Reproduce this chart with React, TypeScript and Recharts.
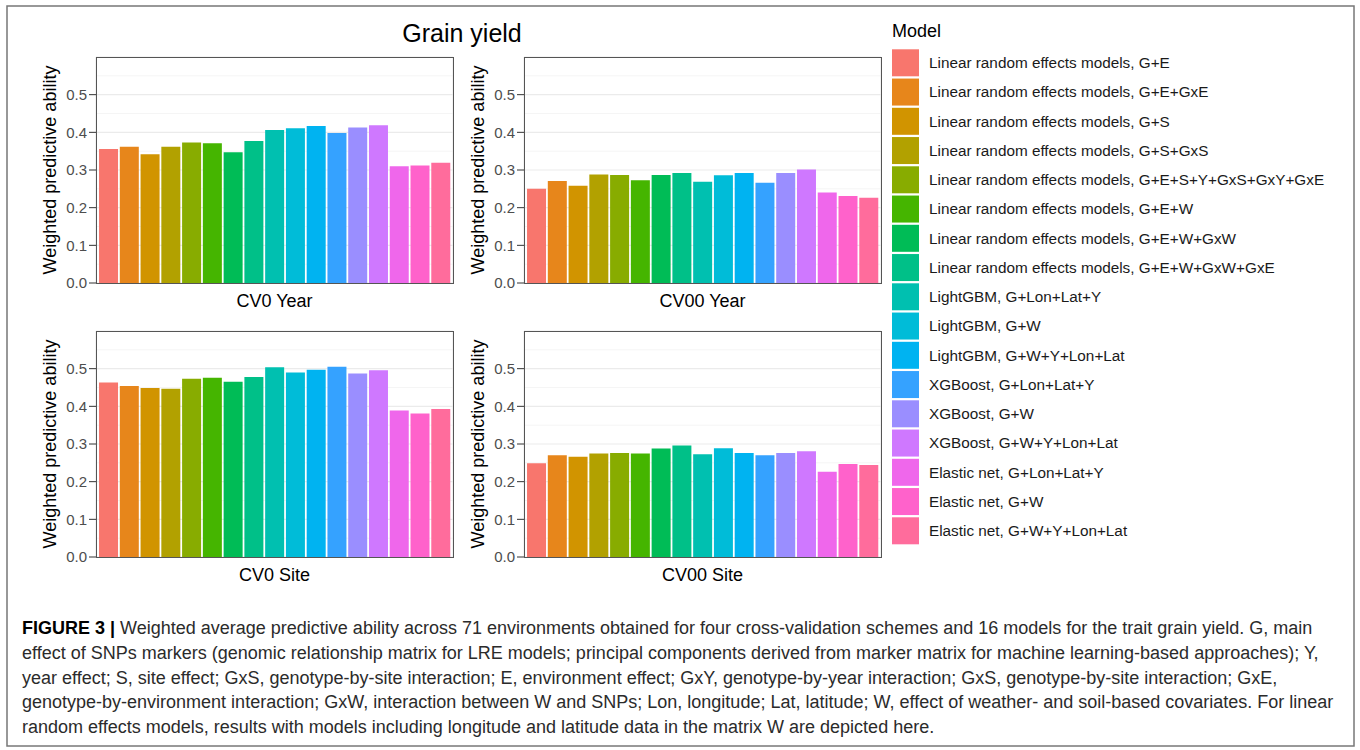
import React from 'react'
import { BarChart, Bar, Cell, XAxis, YAxis, CartesianGrid } from 'recharts'

// model names, in legend / bar order
const models = [
  'Linear random effects models, G+E',
  'Linear random effects models, G+E+GxE',
  'Linear random effects models, G+S',
  'Linear random effects models, G+S+GxS',
  'Linear random effects models, G+E+S+Y+GxS+GxY+GxE',
  'Linear random effects models, G+E+W',
  'Linear random effects models, G+E+W+GxW',
  'Linear random effects models, G+E+W+GxW+GxE',
  'LightGBM, G+Lon+Lat+Y',
  'LightGBM, G+W',
  'LightGBM, G+W+Y+Lon+Lat',
  'XGBoost, G+Lon+Lat+Y',
  'XGBoost, G+W',
  'XGBoost, G+W+Y+Lon+Lat',
  'Elastic net, G+Lon+Lat+Y',
  'Elastic net, G+W',
  'Elastic net, G+W+Y+Lon+Lat',
]

const colors = [
  '#F8766D', '#E7861B', '#D19400', '#B2A100', '#88AC00', '#45B500',
  '#00BC56', '#00C088', '#00C0B0', '#00BCD8', '#00B3F1', '#35A2FF',
  '#9A8EFF', '#CF78FF', '#EF67EB', '#FF62CB', '#FF6C9C',
]

const cv0Year = [0.356, 0.362, 0.342, 0.362, 0.373, 0.371, 0.347, 0.377, 0.406, 0.411, 0.417, 0.398, 0.413, 0.419, 0.310, 0.312, 0.319]
const cv00Year = [0.250, 0.271, 0.258, 0.288, 0.287, 0.273, 0.287, 0.292, 0.269, 0.286, 0.292, 0.266, 0.292, 0.301, 0.240, 0.231, 0.226]
const cv0Site = [0.463, 0.454, 0.449, 0.447, 0.473, 0.476, 0.465, 0.478, 0.504, 0.490, 0.497, 0.505, 0.487, 0.496, 0.389, 0.381, 0.393]
const cv00Site = [0.249, 0.270, 0.266, 0.275, 0.276, 0.275, 0.288, 0.296, 0.273, 0.289, 0.276, 0.270, 0.276, 0.281, 0.226, 0.247, 0.244]

const yTicks = [0, 0.1, 0.2, 0.3, 0.4, 0.5]
const yMinor = [0.05, 0.15, 0.25, 0.35, 0.45, 0.55]
const yMax = 0.6

const captionLines = [
  'Weighted average predictive ability across 71 environments obtained for four cross-validation schemes and 16 models for the trait grain yield. G, main',
  'effect of SNPs markers (genomic relationship matrix for LRE models; principal components derived from marker matrix for machine learning-based approaches); Y,',
  'year effect; S, site effect; GxS, genotype-by-site interaction; E, environment effect; GxY, genotype-by-year interaction; GxS, genotype-by-site interaction; GxE,',
  'genotype-by-environment interaction; GxW, interaction between W and SNPs; Lon, longitude; Lat, latitude; W, effect of weather- and soil-based covariates. For linear',
  'random effects models, results with models including longitude and latitude data in the matrix W are depicted here.',
]

const FONT = "'Liberation Sans', Arial, Helvetica, sans-serif"
const PLOT_W = 357
const PLOT_H = 226
const AXIS_W = 60
const TOP = 10
const RIGHT = 10
const X_H = 40

const panels = [
  { values: cv0Year, label: 'CV0 Year', x: 96, y: 57 },
  { values: cv00Year, label: 'CV00 Year', x: 524, y: 57 },
  { values: cv0Site, label: 'CV0 Site', x: 96, y: 331 },
  { values: cv00Site, label: 'CV00 Site', x: 524, y: 331 },
]

function Panel({ values, label, x, y }: { values: number[]; label: string; x: number; y: number }) {
  const data = models.map((m, i) => ({ model: m, value: values[i] }))
  const minorPts = yMinor.map((v) => TOP + PLOT_H * (1 - v / yMax))
  return (
    <div style={{ position: 'absolute', left: x - AXIS_W, top: y - TOP }}>
      <BarChart
        width={AXIS_W + PLOT_W + RIGHT}
        height={TOP + PLOT_H + X_H}
        data={data}
        margin={{ top: TOP, right: RIGHT, left: 0, bottom: 0 }}
        barCategoryGap="5%"
      >
        <CartesianGrid horizontalPoints={minorPts} vertical={false} stroke="#F2F2F2" strokeWidth={0.8} />
        <CartesianGrid stroke="#EBEBEB" strokeWidth={1.2} />
        <XAxis
          dataKey="model"
          tick={false}
          tickLine={false}
          axisLine={false}
          height={X_H}
          padding={{ left: 2, right: 2 }}
          label={{ value: label, position: 'insideBottom', offset: 16, style: { fontSize: 18, fill: '#000', fontFamily: FONT } }}
        />
        <YAxis
          domain={[0, yMax]}
          ticks={yTicks}
          tickFormatter={(v: number) => v.toFixed(1)}
          width={AXIS_W}
          axisLine={false}
          tickLine={{ stroke: '#333' }}
          tickSize={7}
          tickMargin={2}
          tick={{ fontSize: 15, fill: '#4D4D4D', fontFamily: FONT }}
          label={{
            value: 'Weighted predictive ability',
            angle: -90,
            position: 'insideLeft',
            offset: 14,
            style: { textAnchor: 'middle', fontSize: 18, fill: '#000', fontFamily: FONT },
          }}
        />
        <Bar dataKey="value" isAnimationActive={false}>
          {data.map((d, i) => (
            <Cell key={d.model} fill={colors[i]} />
          ))}
        </Bar>
      </BarChart>
    </div>
  )
}

export default function App() {
  return (
    <div style={{ position: 'absolute', left: 0, top: 0, width: 1360, height: 750, background: '#fff', fontFamily: FONT }}>
      {panels.map((p) => (
        <Panel key={p.label} {...p} />
      ))}
      <svg width={1360} height={750} style={{ position: 'absolute', left: 0, top: 0, pointerEvents: 'none' }} fontFamily={FONT}>
        <rect x={7} y={6} width={1347} height={740} fill="none" stroke="#777" strokeWidth={1.5} />
        {panels.map((p) => (
          <rect key={p.label} x={p.x + 0.5} y={p.y + 0.5} width={PLOT_W} height={PLOT_H} fill="none" stroke="#555" strokeWidth={1} />
        ))}
        <text x={462} y={42} textAnchor="middle" fontSize={25} fill="#000">Grain yield</text>
        <text x={892} y={37} fontSize={18} fill="#000">Model</text>
        {models.map((m, i) => {
          const top = 49.3 + i * 29.25
          return (
            <g key={m}>
              <rect x={892} y={top} width={27} height={27} fill={colors[i]} />
              <text x={929} y={top + 13.5 + 5.4} fontSize={15.3} fill="#1A1A1A">{m}</text>
            </g>
          )
        })}
        {captionLines.map((line, i) => (
          <text key={i} x={22} y={634 + i * 24.8} fontSize={18} fill="#2B2B2B">
            {i === 0 ? <tspan fontWeight="bold" fill="#000">FIGURE 3 | </tspan> : null}
            {line}
          </text>
        ))}
      </svg>
    </div>
  )
}
